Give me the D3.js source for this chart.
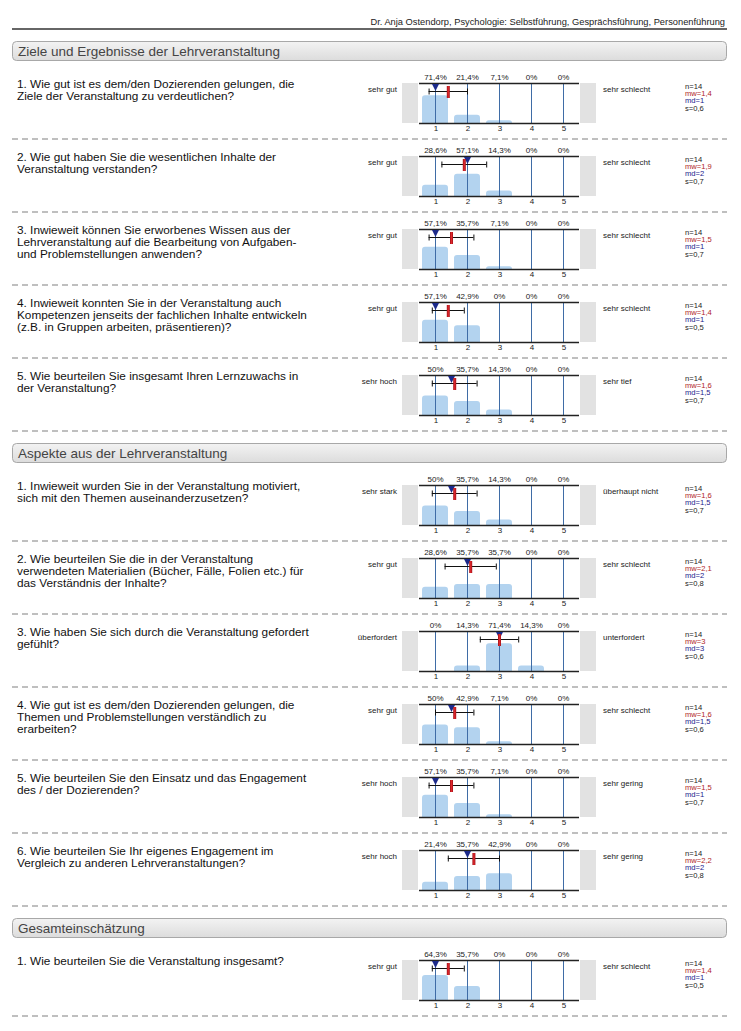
<!DOCTYPE html>
<html>
<head>
<meta charset="utf-8">
<script src="https://cdn.jsdelivr.net/npm/d3@7"></script>
<style>
  html, body { margin: 0; padding: 0; background: #fff; }
  svg { display: block; font-family: "Liberation Sans", Arial, sans-serif; }
</style>
</head>
<body>
<svg id="chart" width="741" height="1031"></svg>
<script>
const headerText = "Dr. Anja Ostendorp, Psychologie: Selbstführung, Gesprächsführung, Personenführung";
const sectionTitles = ["Ziele und Ergebnisse der Lehrveranstaltung", "Aspekte aus der Lehrveranstaltung", "Gesamteinschätzung"];
const questionSection = [0, 0, 0, 0, 0, 1, 1, 1, 1, 1, 1, 2];
const questionLines = [
  ["1. Wie gut ist es dem/den Dozierenden gelungen, die", "Ziele der Veranstaltung zu verdeutlichen?"],
  ["2. Wie gut haben Sie die wesentlichen Inhalte der", "Veranstaltung verstanden?"],
  ["3. Inwieweit können Sie erworbenes Wissen aus der", "Lehrveranstaltung auf die Bearbeitung von Aufgaben-", "und Problemstellungen anwenden?"],
  ["4. Inwieweit konnten Sie in der Veranstaltung auch", "Kompetenzen jenseits der fachlichen Inhalte entwickeln", "(z.B. in Gruppen arbeiten, präsentieren)?"],
  ["5. Wie beurteilen Sie insgesamt Ihren Lernzuwachs in", "der Veranstaltung?"],
  ["1. Inwieweit wurden Sie in der Veranstaltung motiviert,", "sich mit den Themen auseinanderzusetzen?"],
  ["2. Wie beurteilen Sie die in der Veranstaltung", "verwendeten Materialien (Bücher, Fälle, Folien etc.) für", "das Verständnis der Inhalte?"],
  ["3. Wie haben Sie sich durch die Veranstaltung gefordert", "gefühlt?"],
  ["4. Wie gut ist es dem/den Dozierenden gelungen, die", "Themen und Problemstellungen verständlich zu", "erarbeiten?"],
  ["5. Wie beurteilen Sie den Einsatz und das Engagement", "des / der Dozierenden?"],
  ["6. Wie beurteilen Sie Ihr eigenes Engagement im", "Vergleich zu anderen Lehrveranstaltungen?"],
  ["1. Wie beurteilen Sie die Veranstaltung insgesamt?"]
];
const leftLabels = ["sehr gut", "sehr gut", "sehr gut", "sehr gut", "sehr hoch",
  "sehr stark", "sehr gut", "überfordert", "sehr gut", "sehr hoch", "sehr hoch", "sehr gut"];
const rightLabels = ["sehr schlecht", "sehr schlecht", "sehr schlecht", "sehr schlecht", "sehr tief",
  "überhaupt nicht", "sehr schlecht", "unterfordert", "sehr schlecht", "sehr gering", "sehr gering", "sehr schlecht"];
const percentages = [
  [71.4, 21.4, 7.1, 0, 0],
  [28.6, 57.1, 14.3, 0, 0],
  [57.1, 35.7, 7.1, 0, 0],
  [57.1, 42.9, 0, 0, 0],
  [50, 35.7, 14.3, 0, 0],
  [50, 35.7, 14.3, 0, 0],
  [28.6, 35.7, 35.7, 0, 0],
  [0, 14.3, 71.4, 14.3, 0],
  [50, 42.9, 7.1, 0, 0],
  [57.1, 35.7, 7.1, 0, 0],
  [21.4, 35.7, 42.9, 0, 0],
  [64.3, 35.7, 0, 0, 0]
];
const nValues = [14, 14, 14, 14, 14, 14, 14, 14, 14, 14, 14, 14];
const meanValues = [1.4, 1.9, 1.5, 1.4, 1.6, 1.6, 2.1, 3, 1.6, 1.5, 2.2, 1.4];
const medianValues = [1, 2, 1, 1, 1.5, 1.5, 2, 3, 1.5, 1, 2, 1];
const sdValues = [0.6, 0.7, 0.7, 0.5, 0.7, 0.7, 0.8, 0.6, 0.6, 0.7, 0.8, 0.5];
const scaleTicks = [1, 2, 3, 4, 5];

const svg = d3.select("#chart");
const de = v => String(v).replace(".", ",");

// gradients
const defs = svg.append("defs");
const hg = defs.append("linearGradient").attr("id", "hdrGrad").attr("x1", 0).attr("y1", 0).attr("x2", 0).attr("y2", 1);
hg.append("stop").attr("offset", "0%").attr("stop-color", "#f3f3f3");
hg.append("stop").attr("offset", "100%").attr("stop-color", "#dcdcdc");
const rg = defs.append("linearGradient").attr("id", "meanGrad").attr("x1", 0).attr("y1", 0).attr("x2", 1).attr("y2", 0);
rg.append("stop").attr("offset", "0%").attr("stop-color", "#a01018");
rg.append("stop").attr("offset", "50%").attr("stop-color", "#e0282c");
rg.append("stop").attr("offset", "100%").attr("stop-color", "#a01018");

// page header
svg.append("text").attr("x", 725).attr("y", 25).attr("text-anchor", "end")
  .attr("font-size", 9.3).attr("fill", "#222").text(headerText);
svg.append("line").attr("x1", 12).attr("x2", 727).attr("y1", 29).attr("y2", 29)
  .attr("stroke", "#666").attr("stroke-width", 2);

const x = d3.scaleLinear().domain([0.5, 5.5]).range([419, 579]);
const plotH = 40;
const y = d3.scaleLinear().domain([0, 100]).range([plotH, plotH - 39]);

const pitch = 73;
let hdrY = 41;

sectionTitles.forEach((title, si) => {
  const sg = svg.append("g");
  sg.append("rect").attr("x", 12.5).attr("y", hdrY + 0.5).attr("width", 714).attr("height", 19)
    .attr("rx", 4).attr("fill", "url(#hdrGrad)").attr("stroke", "#a8a8a8");
  sg.append("text").attr("x", 18).attr("y", hdrY + 15).attr("font-size", 13.5)
    .attr("fill", "#444").text(title);

  const qIdx = questionSection.map((s, i) => s === si ? i : -1).filter(i => i >= 0);
  let T = hdrY + 42;
  qIdx.forEach(qi => {
    const g = svg.append("g").attr("transform", `translate(0,${T})`);

    // question text
    const qt = g.append("text").attr("font-size", 11.8).attr("fill", "#111");
    questionLines[qi].forEach((line, li) => {
      qt.append("tspan").attr("x", 17).attr("y", 5 + li * 11.8).text(line);
    });

    // side labels
    g.append("text").attr("x", 397).attr("y", 8.5).attr("text-anchor", "end")
      .attr("font-size", 8).attr("fill", "#222").text(leftLabels[qi]);
    g.append("text").attr("x", 603).attr("y", 8.5)
      .attr("font-size", 8).attr("fill", "#222").text(rightLabels[qi]);

    // grey boxes
    g.append("rect").attr("x", 402).attr("y", 0).attr("width", 16).attr("height", plotH).attr("fill", "#e2e2e2");
    g.append("rect").attr("x", 580).attr("y", 0).attr("width", 16).attr("height", plotH).attr("fill", "#e2e2e2");

    // bars
    const bw = 26, r = 3;
    g.selectAll("path.bar").data(percentages[qi].map((p, i) => ({ p, v: scaleTicks[i] })).filter(d => d.p > 0))
      .join("path").attr("class", "bar")
      .attr("fill", "#b3d3ef")
      .attr("d", d => {
        const x0 = x(d.v) - bw / 2, x1 = x(d.v) + bw / 2;
        const yt = y(d.p), yb = y(0);
        const rr = Math.min(r, (yb - yt));
        return `M${x0},${yb}V${yt + rr}Q${x0},${yt} ${x0 + rr},${yt}H${x1 - rr}Q${x1},${yt} ${x1},${yt + rr}V${yb}Z`;
      });

    // vertical lines
    g.selectAll("line.grid").data(scaleTicks).join("line").attr("class", "grid")
      .attr("x1", d => x(d) + 0.5).attr("x2", d => x(d) + 0.5)
      .attr("y1", 0).attr("y2", plotH)
      .attr("stroke", "#3f6ca6").attr("stroke-width", 1);

    // top/bottom lines
    g.append("line").attr("x1", 419).attr("x2", 579).attr("y1", 0.5).attr("y2", 0.5)
      .attr("stroke", "#222").attr("stroke-width", 1.3);
    g.append("line").attr("x1", 419).attr("x2", 579).attr("y1", plotH + 0.5).attr("y2", plotH + 0.5)
      .attr("stroke", "#222").attr("stroke-width", 1.3);

    // percent labels
    g.selectAll("text.pct").data(percentages[qi]).join("text").attr("class", "pct")
      .attr("x", (d, i) => x(scaleTicks[i]) + 0.5).attr("y", -3)
      .attr("text-anchor", "middle").attr("font-size", 8).attr("fill", "#222")
      .text(d => de(d) + "%");

    // tick labels via axis
    const axis = d3.axisBottom(x).tickValues(scaleTicks).tickSize(0).tickPadding(0).tickFormat(d3.format("d"));
    const ag = g.append("g").attr("transform", `translate(0.5,${plotH + 1})`).call(axis);
    ag.select(".domain").remove();
    ag.selectAll("text").attr("font-size", 8).attr("fill", "#222")
      .attr("font-family", "\"Liberation Sans\", Arial, sans-serif").attr("dy", "6.5");

    // error bar (mean ± sd)
    const m = meanValues[qi], s = sdValues[qi];
    const ey = 8;
    g.append("line").attr("x1", x(m - s)).attr("x2", x(m + s)).attr("y1", ey + 0.5).attr("y2", ey + 0.5)
      .attr("stroke", "#111").attr("stroke-width", 1);
    [m - s, m + s].forEach(v => {
      g.append("line").attr("x1", x(v) + 0.5).attr("x2", x(v) + 0.5).attr("y1", ey - 2.5).attr("y2", ey + 3.5)
        .attr("stroke", "#111").attr("stroke-width", 1);
    });

    // median triangle
    const mdx = x(medianValues[qi]) + 0.5;
    g.append("path").attr("d", `M${mdx - 3.5},1L${mdx + 3.5},1L${mdx},8Z`).attr("fill", "#1c2a8a");

    // mean marker
    g.append("rect").attr("x", x(m) - 1).attr("y", 3).attr("width", 3).attr("height", 12)
      .attr("fill", "url(#meanGrad)");

    // stats
    const stats = [
      { t: "n=" + nValues[qi], c: "#222" },
      { t: "mw=" + de(m), c: "#b01e1e" },
      { t: "md=" + de(medianValues[qi]), c: "#1a1a8c" },
      { t: "s=" + de(s), c: "#222" }
    ];
    g.selectAll("text.stat").data(stats).join("text").attr("class", "stat")
      .attr("x", 685).attr("y", (d, i) => 5.5 + i * 7.4)
      .attr("font-size", 7.6).attr("fill", d => d.c).text(d => d.t);

    // dashed separator
    g.append("line").attr("x1", 12).attr("x2", 727).attr("y1", 56).attr("y2", 56)
      .attr("stroke", "#aaa").attr("stroke-width", 1.5).attr("stroke-dasharray", "6,4");

    T += pitch;
  });
  hdrY = T - pitch + 56 + 12;
});
</script>
</body>
</html>
